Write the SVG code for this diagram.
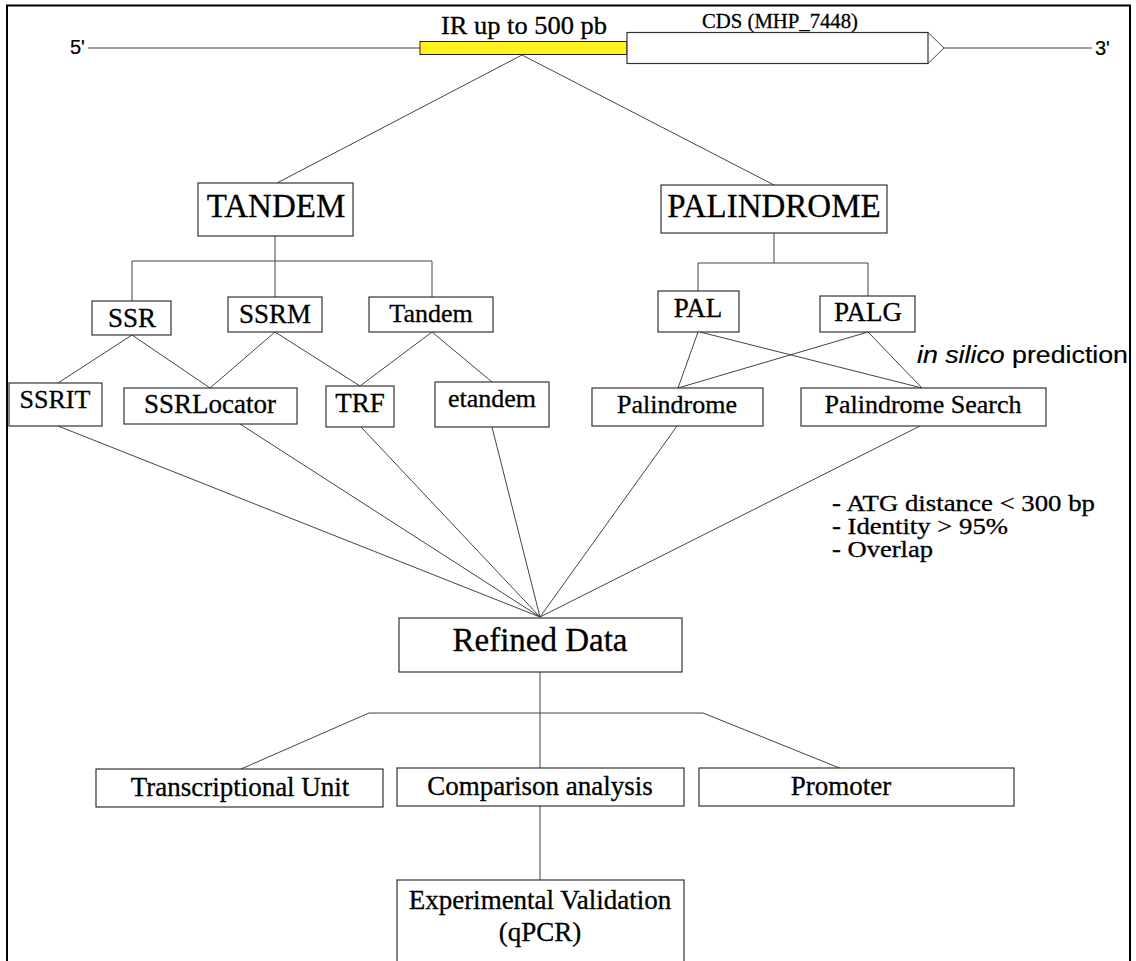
<svg xmlns="http://www.w3.org/2000/svg" width="1136" height="961" viewBox="0 0 1136 961">
<style>
.box{fill:#fff;stroke:#333;stroke-width:1.2}
.ln{stroke:#444;stroke-width:1;fill:none}
.t{font-family:"Liberation Serif","Times New Roman",serif;fill:#000;stroke:#000;stroke-width:0.3;text-anchor:middle}
.s{font-family:"Liberation Sans",Arial,sans-serif;fill:#000;stroke:#000;stroke-width:0.2}
</style>
<rect width="1136" height="961" fill="#fff"/>
<path d="M7,975 V5.5 H1130 V975" fill="none" stroke="#000" stroke-width="2"/>
<g id="gene">
<line class="ln" x1="88" y1="48" x2="420" y2="48"/>
<rect x="420" y="41.5" width="207" height="13" fill="#fff31f" stroke="#222" stroke-width="1"/>
<rect class="box" x="627" y="32.5" width="301" height="31"/>
<polyline class="ln" points="928,32.5 944,48 928,63.5"/>
<line class="ln" x1="944" y1="48" x2="1092" y2="48"/>
<text class="s" x="70" y="54" font-size="20">5'</text>
<text class="s" x="1095" y="55" font-size="20">3'</text>
<text class="t" x="524" y="34" font-size="25" textLength="166" lengthAdjust="spacingAndGlyphs">IR up to 500 pb</text>
<text class="t" x="780" y="28" font-size="22" textLength="156" lengthAdjust="spacingAndGlyphs">CDS (MHP_7448)</text>
</g>
<g id="connectors">
<line class="ln" x1="522" y1="55" x2="277" y2="183"/>
<line class="ln" x1="522" y1="55" x2="774" y2="185"/>
<polyline class="ln" points="275,236 275,261"/>
<polyline class="ln" points="132,301 132,261 432,261 432,297"/>
<line class="ln" x1="275" y1="261" x2="275" y2="297"/>
<polyline class="ln" points="774,233 774,263"/>
<polyline class="ln" points="698,291 698,263 868,263 868,296"/>
<line class="ln" x1="132" y1="335" x2="58" y2="383"/>
<line class="ln" x1="132" y1="335" x2="210" y2="388"/>
<line class="ln" x1="275" y1="332" x2="210" y2="388"/>
<line class="ln" x1="275" y1="332" x2="360" y2="386"/>
<line class="ln" x1="432" y1="332" x2="360" y2="386"/>
<line class="ln" x1="432" y1="332" x2="492" y2="382"/>
<line class="ln" x1="698" y1="332" x2="678" y2="388"/>
<line class="ln" x1="700" y1="332" x2="922" y2="388"/>
<line class="ln" x1="868" y1="332" x2="678" y2="388"/>
<line class="ln" x1="868" y1="332" x2="922" y2="388"/>
<line class="ln" x1="58" y1="426" x2="540" y2="617"/>
<line class="ln" x1="240" y1="424" x2="540" y2="617"/>
<line class="ln" x1="361" y1="427" x2="540" y2="617"/>
<line class="ln" x1="492" y1="427" x2="540" y2="617"/>
<line class="ln" x1="677" y1="426" x2="540" y2="617"/>
<line class="ln" x1="920" y1="426" x2="540" y2="617"/>
<line class="ln" x1="540" y1="672" x2="540" y2="769"/>
<polyline class="ln" points="241,769 369,713 703,713 842,769"/>
<line class="ln" x1="540" y1="806" x2="540" y2="880"/>
</g>
<g id="tandem"><rect class="box" x="198" y="183" width="155" height="53"/><text class="t" x="276" y="217" font-size="33">TANDEM</text></g>
<g id="palindrome"><rect class="box" x="661" y="185" width="226" height="48"/><text class="t" x="774" y="217" font-size="33">PALINDROME</text></g>
<g id="ssr"><rect class="box" x="92" y="301" width="79" height="34"/><text class="t" x="132" y="327" font-size="27">SSR</text></g>
<g id="ssrm"><rect class="box" x="228" y="297" width="94" height="35"/><text class="t" x="275" y="323" font-size="27">SSRM</text></g>
<g id="tandem2"><rect class="box" x="369" y="297" width="124" height="35"/><text class="t" x="431" y="322" font-size="26">Tandem</text></g>
<g id="ssrit"><rect class="box" x="9" y="383" width="93" height="43"/><text class="t" x="55" y="408" font-size="26">SSRIT</text></g>
<g id="ssrlocator"><rect class="box" x="124" y="388" width="173" height="36"/><text class="t" x="210" y="413" font-size="27">SSRLocator</text></g>
<g id="trf"><rect class="box" x="326" y="386" width="68" height="41"/><text class="t" x="360" y="412" font-size="27">TRF</text></g>
<g id="etandem"><rect class="box" x="435" y="382" width="114" height="45"/><text class="t" x="492" y="407" font-size="26">etandem</text></g>
<g id="pal"><rect class="box" x="658" y="291" width="81" height="41"/><text class="t" x="698" y="317" font-size="27">PAL</text></g>
<g id="palg"><rect class="box" x="820" y="296" width="95" height="36"/><text class="t" x="868" y="321" font-size="27">PALG</text></g>
<g id="palindrome2"><rect class="box" x="592" y="388" width="171" height="38"/><text class="t" x="677" y="413" font-size="26">Palindrome</text></g>
<g id="palsearch"><rect class="box" x="801" y="388" width="245" height="38"/><text class="t" x="923" y="413" font-size="26">Palindrome Search</text></g>
<g id="insilico"><text class="s" x="917" y="363" font-size="23" textLength="211" lengthAdjust="spacingAndGlyphs"><tspan font-style="italic">in silico</tspan> prediction</text></g>
<g id="criteria">
<text class="t" x="832" y="511" font-size="23" style="text-anchor:start" textLength="263" lengthAdjust="spacingAndGlyphs">- ATG distance &lt; 300 bp</text>
<text class="t" x="832" y="534" font-size="23" style="text-anchor:start" textLength="176" lengthAdjust="spacingAndGlyphs">- Identity &gt; 95%</text>
<text class="t" x="832" y="557" font-size="23" style="text-anchor:start" textLength="101" lengthAdjust="spacingAndGlyphs">- Overlap</text>
</g>
<g id="refined"><rect class="box" x="399" y="618" width="283" height="54"/><text class="t" x="540" y="651" font-size="33">Refined Data</text></g>
<g id="transcriptional"><rect class="box" x="96" y="769" width="287" height="38"/><text class="t" x="240" y="796" font-size="27">Transcriptional Unit</text></g>
<g id="comparison"><rect class="box" x="397" y="768" width="287" height="38"/><text class="t" x="540" y="795" font-size="27">Comparison analysis</text></g>
<g id="promoter"><rect class="box" x="699" y="768" width="315" height="38"/><text class="t" x="841" y="795" font-size="27">Promoter</text></g>
<g id="experimental"><rect class="box" x="397" y="880" width="287" height="95"/><text class="t" x="540" y="909" font-size="27">Experimental Validation</text><text class="t" x="540" y="941" font-size="27">(qPCR)</text></g>
</svg>
